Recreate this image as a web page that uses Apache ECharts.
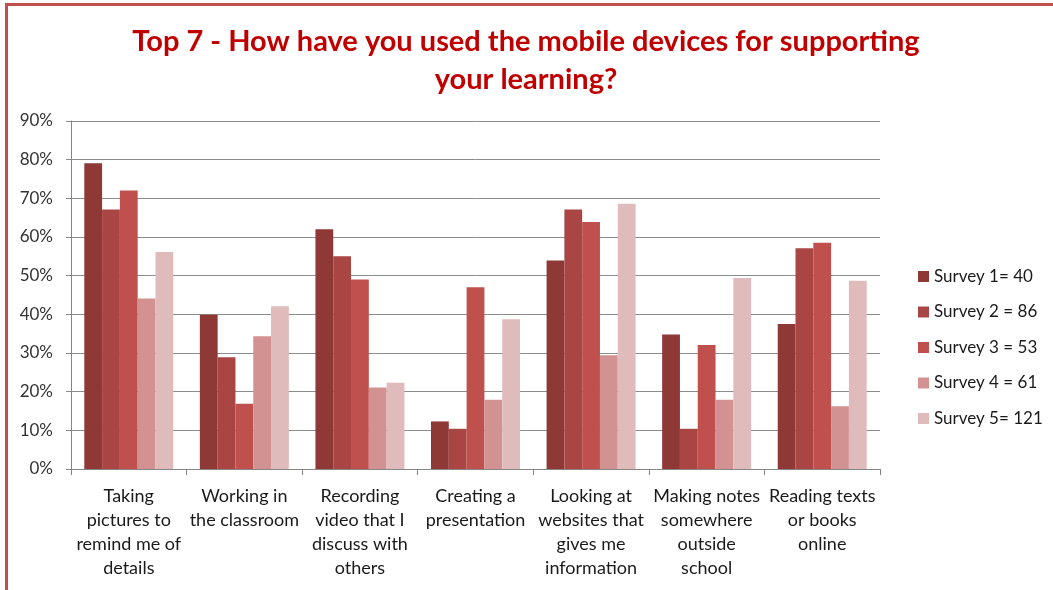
<!DOCTYPE html>
<html>
<head>
<meta charset="utf-8">
<script src="https://cdn.jsdelivr.net/npm/echarts@6/dist/echarts.min.js"></script>
<style>
html,body{margin:0;padding:0;background:#fff;}
#chart{width:1053px;height:590px;position:absolute;left:0;top:0;}
#frame{position:absolute;left:5px;top:3px;width:1060px;height:600px;border-left:3px solid #C0504D;border-top:3px solid #C0504D;pointer-events:none;}
</style>
</head>
<body>
<div id="chart"></div>
<div id="frame"></div>
<script>
const categories = [
  'Taking\npictures to\nremind me of\ndetails',
  'Working in\nthe classroom',
  'Recording\nvideo that I\ndiscuss with\nothers',
  'Creating a\npresentation',
  'Looking at\nwebsites that\ngives me\ninformation',
  'Making notes\nsomewhere\noutside\nschool',
  'Reading texts\nor books\nonline'
];
const seriesNames = ['Survey 1= 40', 'Survey 2 = 86', 'Survey 3 = 53', 'Survey 4 = 61', 'Survey 5= 121'];
const survey1 = [79.1, 39.9, 62.0, 12.3, 53.9, 34.8, 37.5];
const survey2 = [67.1, 28.9, 55.0, 10.4, 67.1, 10.4, 57.1];
const survey3 = [72.0, 16.9, 49.0, 47.0, 63.9, 32.1, 58.5];
const survey4 = [44.1, 34.3, 21.1, 17.9, 29.4, 17.9, 16.2];
const survey5 = [56.1, 42.1, 22.3, 38.7, 68.6, 49.4, 48.7];
const yTicks = [0, 10, 20, 30, 40, 50, 60, 70, 80, 90];

const colors = ['#8F3937', '#A94644', '#C0504D', '#D29291', '#E0BBBB'];
const allData = [survey1, survey2, survey3, survey4, survey5];
const font = 'Lato, "Open Sans", sans-serif';

const chart = echarts.init(document.getElementById('chart'));
chart.setOption({
  animation: false,
  color: colors,
  title: {
    text: 'Top 7 - How have you used the mobile devices for supporting\nyour learning?',
    left: 521,
    top: 18,
    textAlign: 'center',
    textStyle: {
      fontFamily: font,
      fontWeight: 'bold',
      fontSize: 29,
      color: '#C00000',
      lineHeight: 38
    }
  },
  legend: {
    orient: 'vertical',
    left: 913,
    top: 263,
    itemWidth: 11,
    itemHeight: 11,
    itemGap: 18.5,
    icon: 'rect',
    data: seriesNames,
    textStyle: { fontFamily: font, fontSize: 17, color: '#1a1a1a' }
  },
  grid: { left: 71, right: 173, top: 121, bottom: 121 },
  xAxis: {
    type: 'category',
    data: categories,
    axisLine: { lineStyle: { color: '#868686', width: 1 } },
    axisTick: { show: true, length: 6, lineStyle: { color: '#868686' } },
    axisLabel: {
      interval: 0,
      margin: 15,
      fontFamily: font,
      fontSize: 18,
      lineHeight: 24,
      color: '#1a1a1a',
      align: 'center'
    }
  },
  yAxis: {
    type: 'value',
    min: yTicks[0],
    max: yTicks[yTicks.length - 1],
    interval: 10,
    axisLine: { show: true, lineStyle: { color: '#868686' } },
    axisTick: { show: true, inside: false, length: 5, lineStyle: { color: '#868686' } },
    splitLine: { show: true, lineStyle: { color: '#8c8c8c', width: 1 } },
    axisLabel: {
      formatter: '{value}%',
      margin: 18,
      fontFamily: font,
      fontSize: 17,
      color: '#333'
    }
  },
  series: seriesNames.map((name, i) => ({
    name: name,
    type: 'bar',
    data: allData[i],
    barGap: '0%',
    barCategoryGap: '23%',
    itemStyle: { color: colors[i] }
  }))
});
</script>
</body>
</html>
